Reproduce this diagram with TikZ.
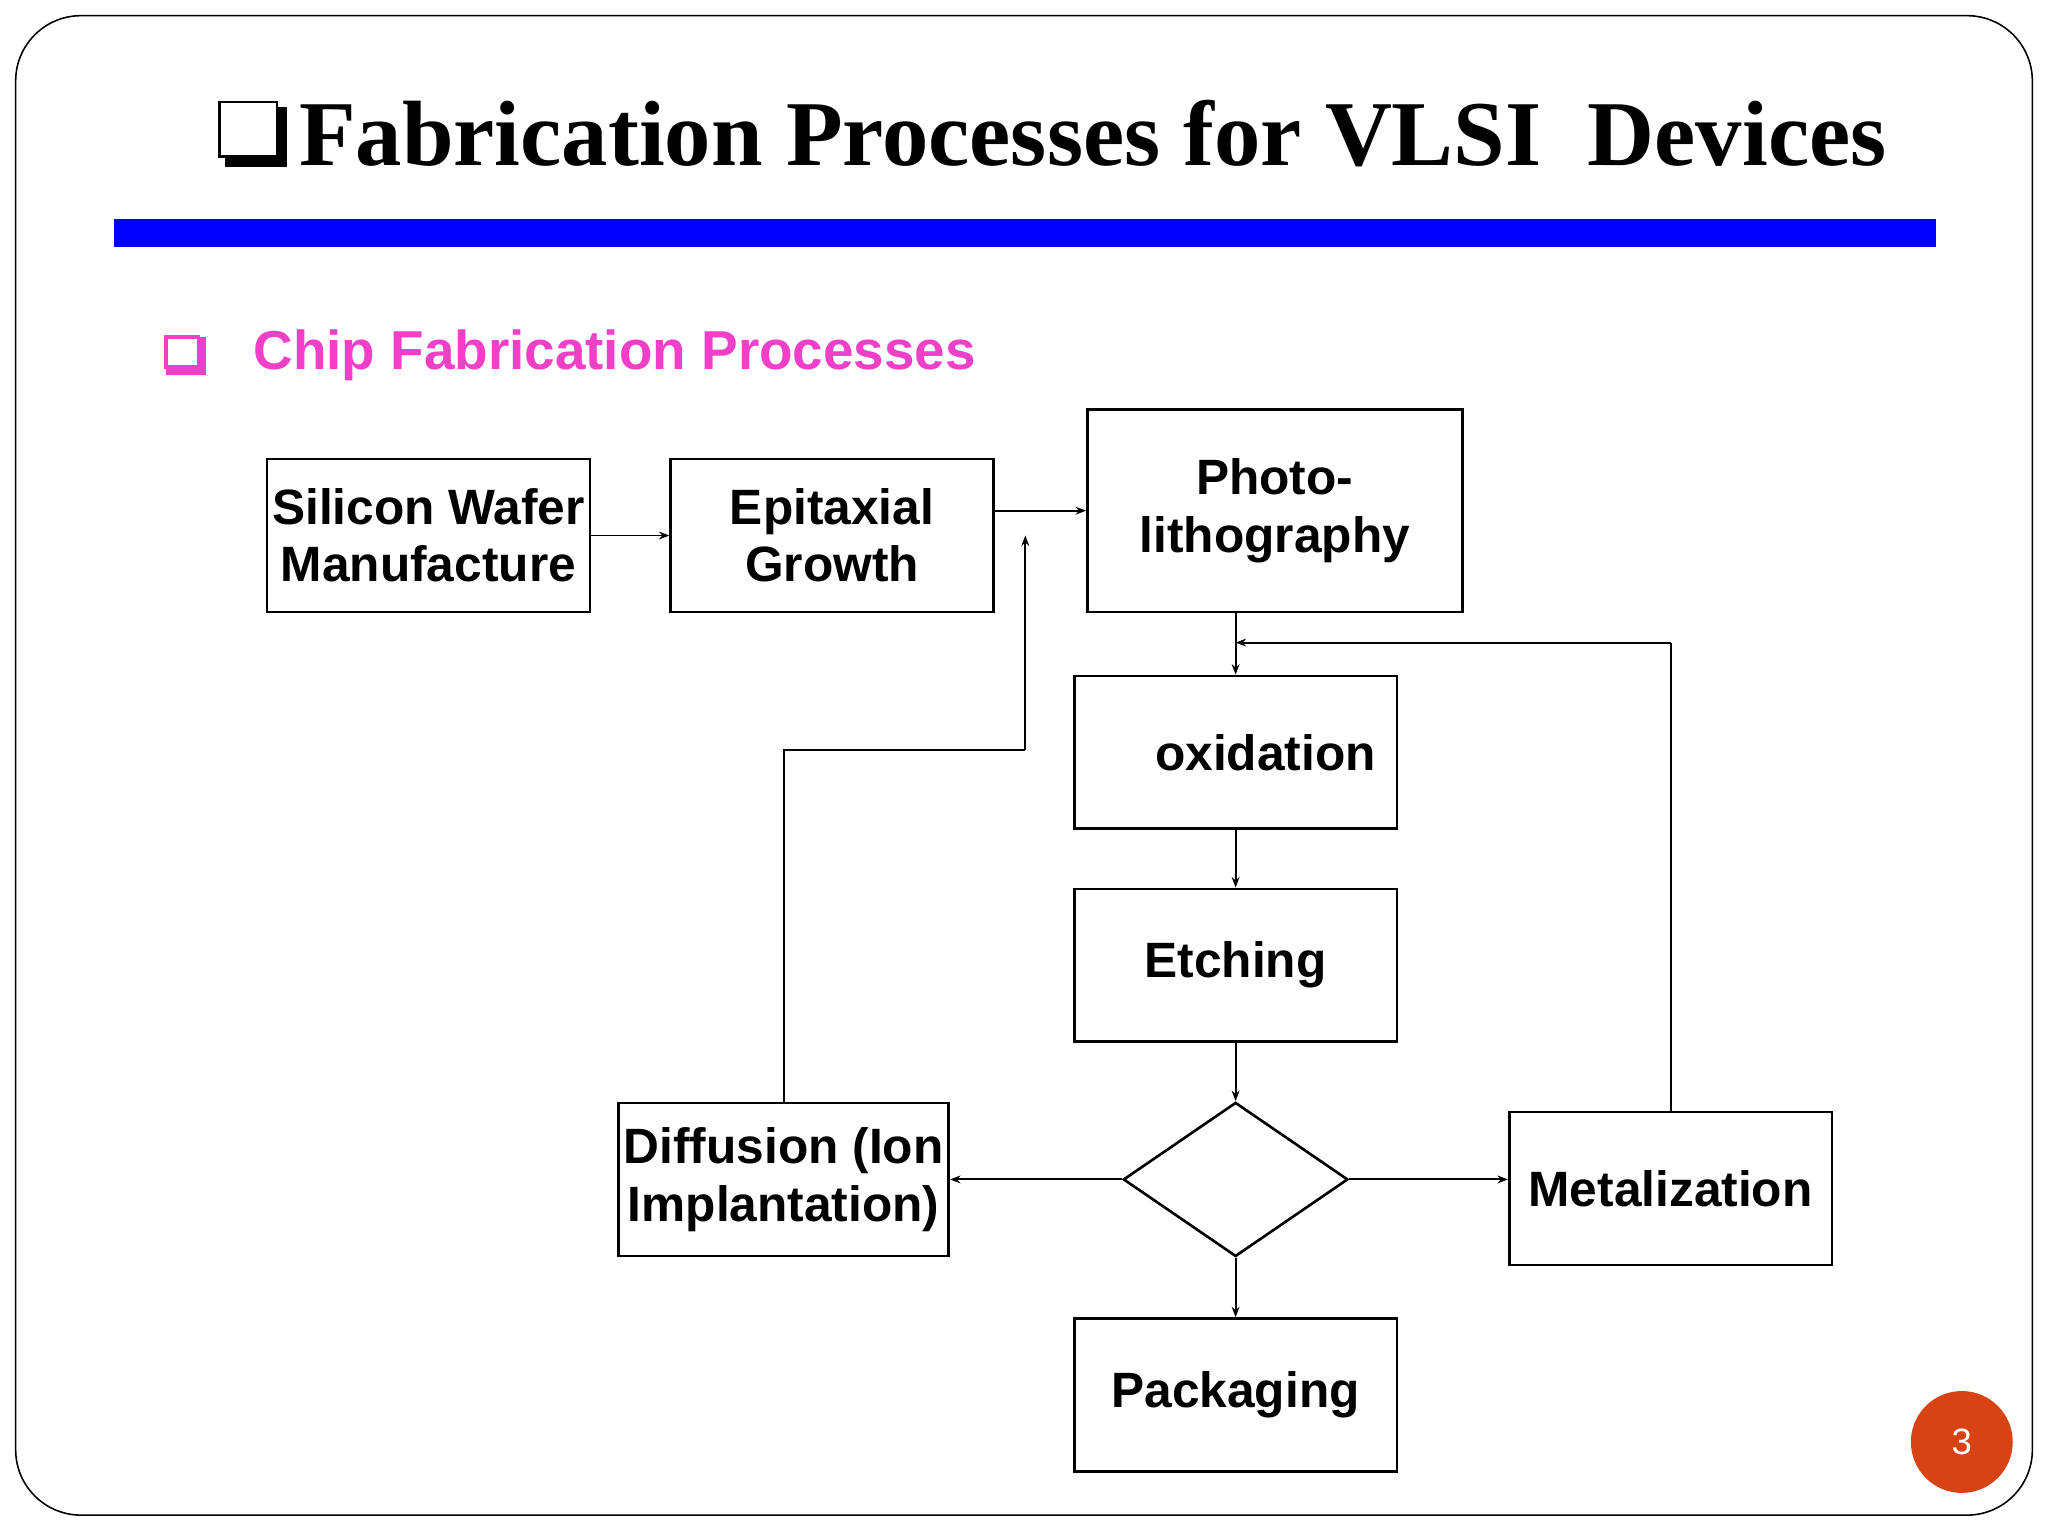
\documentclass[tikz,border=0pt]{standalone}
\usepackage{fontspec}
\setmainfont{Liberation Sans}
\newfontfamily\titlefont{Liberation Serif}
\usetikzlibrary{shapes.geometric,arrows.meta}
\definecolor{slidepink}{RGB}{240,64,200}
\definecolor{pageorange}{RGB}{216,67,21}
\begin{document}
\begin{tikzpicture}[x=0.5pt,y=-0.5pt,
  box/.style={draw,line width=1pt,minimum width=123.5pt,minimum height=58.5pt,
    align=center,font=\fontsize{19}{22}\selectfont\bfseries,inner sep=2pt},
  conn/.style={line width=0.75pt,-{Stealth[length=4pt,width=3pt]}},
  seg/.style={line width=0.75pt}]
\useasboundingbox (0,0) rectangle (1568,1176);
\fill[white] (0,0) rectangle (1568,1176);
% frame
\draw[line width=0.6pt,rounded corners=25pt] (12,12) rectangle (1556,1160);
% title
\fill[black] (172,82) rectangle (220,128);
\draw[line width=1pt,fill=white] (168,78) rectangle (212,120);
\node[anchor=west,font=\titlefont\fontsize{35.5}{40}\selectfont\bfseries] (title) at (222,102) {Fabrication Processes for VLSI\ \ Devices};
\fill[blue] (87,168) rectangle (1482,189);
% subtitle
\fill[slidepink] (127,258) rectangle (158,287);
\fill[white] (127,258) rectangle (152,281);
\draw[slidepink,line width=1.5pt] (127,258) rectangle (152,281);
\node[anchor=west,text=slidepink,font=\fontsize{21}{24}\selectfont\bfseries] (sub) at (187,272) {Chip Fabrication Processes};
% boxes
\node[box] (si) at (328,410) {Silicon Wafer\\Manufacture};
\node[box] (epi) at (637,410) {Epitaxial\\Growth};
\node[box,minimum width=143.5pt,minimum height=77.5pt] (photo) at (976,391) {Photo-\\lithography};
\node[box] (ox) at (946,576) {\hspace*{1.2em}oxidation};
\node[box] (etch) at (946,739) {Etching};
\node[draw,line width=1pt,diamond,aspect=1.46,minimum width=86pt,minimum height=59pt,inner sep=0pt] (dec) at (946,903) {};
\node[box] (diff) at (600,903) {Diffusion (Ion\\Implantation)};
\node[box] (metal) at (1279,910) {Metalization};
\node[box] (pack) at (946,1068) {Packaging};
% connectors
\draw[conn] (si.east |- 0,410) -- (epi.west |- 0,410);
\draw[conn] (epi.east |- 0,391) -- (photo.west |- 0,391);
\draw[conn] (photo.south -| ox.north) -- (ox.north);
\draw[conn] (ox) -- (etch);
\draw[conn] (etch) -- (dec.north);
\draw[conn] (dec.west) -- (diff.east);
\draw[conn] (dec.east) -- (metal.west |- dec.east);
\draw[conn] (dec.south) -- (pack.north);
\coordinate (m1) at (1279,492);
\draw[seg] (metal.north) -- (m1);
\draw[conn] (m1) -- (946,492);
\coordinate (d1) at (600,574);
\coordinate (d2) at (785,574);
\draw[seg] (diff.north) -- (d1) -- (d2);
\draw[conn] (d2) -- (785,410);
% page number
\node[circle,fill=pageorange,minimum size=39pt,text=white,font=\fontsize{14}{16}\selectfont] (pg) at (1502,1104) {3};
\end{tikzpicture}
\end{document}
